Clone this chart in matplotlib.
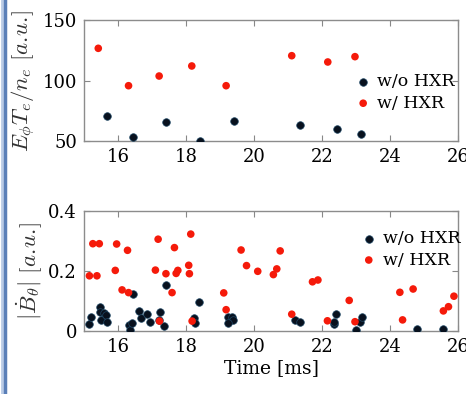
import numpy as np
import matplotlib
matplotlib.use("Agg")
import matplotlib.pyplot as plt
from matplotlib.lines import Line2D

plt.rcParams['font.family'] = ['DejaVu Serif']
plt.rcParams['mathtext.fontset'] = 'cm'

# top panel: E_phi T_e / n_e
t_top_no = [15.67, 16.44, 17.42, 18.40, 19.40, 21.34, 22.43, 23.16]
v_top_no = [70.9, 53.1, 65.5, 50.0, 66.8, 63.0, 60.2, 55.5]
t_top_hxr = [15.42, 16.31, 17.21, 18.17, 19.18, 21.11, 22.17, 22.97]
v_top_hxr = [126.6, 95.7, 103.7, 112.0, 95.7, 120.5, 115.3, 119.7]

# bottom panel: |dB/dt|
t_bot_no = [15.16, 15.22, 15.48, 15.47, 15.59, 15.49, 15.66, 15.67, 16.31, 16.36, 16.41,
            16.44, 16.63, 16.69, 16.85, 16.94, 17.25, 17.21, 17.36, 17.41, 18.23, 18.26,
            18.39, 19.25, 19.36, 19.39, 19.25, 21.21, 21.35, 22.36, 22.41, 22.35, 23.00,
            23.12, 23.17, 24.78, 25.57]
v_bot_no = [0.022, 0.047, 0.081, 0.062, 0.059, 0.037, 0.053, 0.029, 0.020, 0.003, 0.026,
            0.122, 0.067, 0.042, 0.056, 0.029, 0.062, 0.037, 0.018, 0.152, 0.042, 0.026,
            0.096, 0.048, 0.048, 0.037, 0.026, 0.037, 0.029, 0.022, 0.056, 0.031, 0.003,
            0.029, 0.048, 0.007, 0.007]
t_bot_hxr = [15.16, 15.38, 15.26, 15.45, 15.92, 15.96, 16.12, 16.28, 16.31, 17.10, 17.18,
             17.22, 17.41, 17.59, 17.66, 17.71, 17.76, 18.08, 18.10, 18.14, 18.18, 19.11,
             19.18, 19.62, 19.78, 20.11, 20.57, 20.67, 20.77, 21.11, 21.72, 21.88, 22.16,
             22.80, 22.97, 24.29, 24.37, 24.68, 25.57, 25.72, 25.88]
v_bot_hxr = [0.184, 0.184, 0.291, 0.291, 0.202, 0.290, 0.137, 0.269, 0.128, 0.203, 0.306,
             0.033, 0.191, 0.128, 0.278, 0.192, 0.202, 0.219, 0.191, 0.323, 0.033, 0.127,
             0.071, 0.270, 0.218, 0.199, 0.188, 0.207, 0.267, 0.056, 0.164, 0.170, 0.034,
             0.102, 0.031, 0.129, 0.037, 0.140, 0.067, 0.081, 0.116]

labels = ['w/o HXR', 'w/ HXR']
c_no = '#08111e'
c_hxr = '#f51a0a'

W, H = 466, 394
fig = plt.figure(figsize=(W / 100, H / 100), dpi=100)
ax1 = fig.add_axes([84 / W, 1 - 141 / H, 374 / W, 121 / H])
ax2 = fig.add_axes([84 / W, 1 - 331 / H, 374 / W, 120 / H])

for ax, tn, vn, th, vh in [(ax1, t_top_no, v_top_no, t_top_hxr, v_top_hxr),
                           (ax2, t_bot_no, v_bot_no, t_bot_hxr, v_bot_hxr)]:
    ax.scatter(tn, vn, s=30, c=c_no, edgecolors='#1f4866', linewidths=0.5, label=labels[0], zorder=3)
    ax.scatter(th, vh, s=30, c=c_hxr, edgecolors='none', label=labels[1], zorder=3)
    ax.set_xlim(15, 26)
    ax.set_xticks([16, 18, 20, 22, 24, 26])
    ax.tick_params(direction='in', top=True, right=True, length=4, width=0.8,
                   color='#888888', labelsize=13, pad=5)
    for sp in ax.spines.values():
        sp.set_color('#8c8c8c')
        sp.set_linewidth(1.0)
    ax.set_clip_on(False)

ax1.set_ylim(50, 150)
ax1.set_yticks([50, 100, 150])
ax2.set_ylim(0, 0.4)
ax2.set_yticks([0, 0.2, 0.4])
ax2.set_yticklabels(['0', '0.2', '0.4'])

ax1.set_ylabel(r'$E_{\phi}T_e/n_e\ [a.\!u.\!]$', fontsize=16.5, color='#333333', labelpad=3)
ax2.set_ylabel(r'$|\dot{B}_{\theta}|\ [a.\!u.\!]$', fontsize=16.5, color='#333333', labelpad=3)
ax2.set_xlabel('Time [ms]', fontsize=13.5, labelpad=2)

leg_kw = dict(frameon=False, fontsize=12.5, handletextpad=0.3, labelspacing=0.25,
              borderpad=0, handlelength=1.0, loc='center left')
ax1.legend(bbox_to_anchor=(0.70, 0.40), **leg_kw)
ax2.legend(bbox_to_anchor=(0.715, 0.68), **leg_kw)

# blue frame edge on the left
fig.add_artist(Line2D([1.5 / W, 1.5 / W], [0, 1], color='#b9cbe6', lw=2, transform=fig.transFigure))
fig.add_artist(Line2D([4.5 / W, 4.5 / W], [0, 1], color='#5a7fb8', lw=2.5, transform=fig.transFigure))

fig.savefig('out.png', dpi=100)
